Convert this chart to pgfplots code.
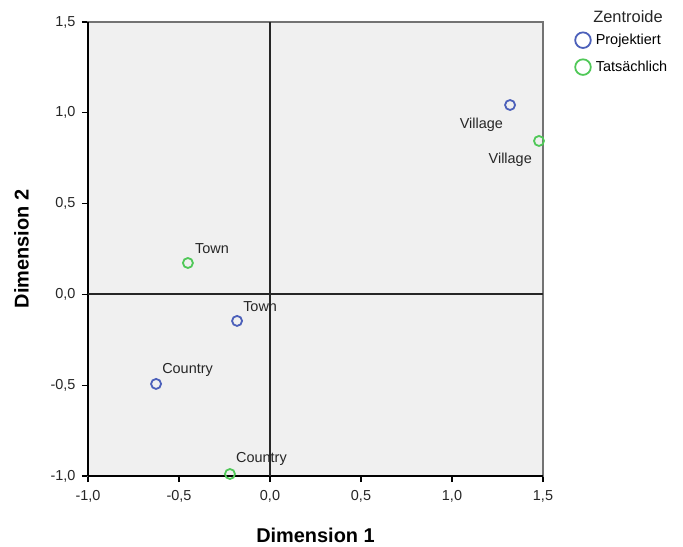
\documentclass[border=0pt]{standalone}
\usepackage{fontspec}
\setmainfont{Liberation Sans}
\usepackage{pgfplots}
\pgfplotsset{compat=1.18}
\definecolor{bgc}{RGB}{240,240,240}
\definecolor{cblue}{RGB}{76,96,186}
\definecolor{cgreen}{RGB}{80,200,88}
\begin{document}
\begin{tikzpicture}
\begin{axis}[name=ax, scale only axis, width=455bp, height=454bp,
  xmin=-1, xmax=1.5, ymin=-1, ymax=1.5,
  xtick={-1,-0.5,0,0.5,1,1.5}, ytick={-1,-0.5,0,0.5,1,1.5},
  axis background/.style={fill=bgc},
  axis line style={draw=black!55, line width=1.2bp},
  tick style={black, line width=1.1bp},
  major tick length=6bp, tick align=outside, tick pos=left,
  ticklabel style={font=\fontsize{14.5}{16}\selectfont, text=black!85},
  xticklabel style={yshift=-5bp}, yticklabel style={xshift=-3bp},
  /pgf/number format/.cd, use comma, fixed, fixed zerofill, precision=1, assume math mode=true,
  /pgfplots/.cd,
  xlabel={Dimension 1}, ylabel={Dimension 2},
  label style={font=\bfseries\fontsize{20}{23}\selectfont},
  xlabel style={yshift=-19bp}, ylabel style={yshift=15bp},
  clip=false,
  legend style={at={(1,1)}, anchor=north west, xshift=32bp, yshift=-10bp, draw=none, fill=none,
    font=\fontsize{14.5}{16}\selectfont, row sep=11bp, inner sep=0pt,
    cells={anchor=west}},
  legend image code/.code={\draw[#1, mark size=7.8bp, mark options={line width=1.8bp}] plot coordinates {(0bp,0bp)};},
]
\draw[black, line width=1.2bp] (rel axis cs:0,0) -- (rel axis cs:0,1);
\draw[black, line width=1.2bp] (rel axis cs:0,0) -- (rel axis cs:1,0);
\draw[black!85, line width=2bp] (axis cs:0,-1) -- (axis cs:0,1.5);
\draw[black!85, line width=2bp] (axis cs:-1,0) -- (axis cs:1.5,0);
\addplot[only marks, mark=o, mark size=5bp, draw=cblue, mark options={line width=1.8bp}] coordinates {
 (1.319,1.043) (-0.181,-0.146) (-0.626,-0.493)};
\addlegendentry{\hspace{3bp}Projektiert}
\addplot[only marks, mark=o, mark size=5bp, draw=cgreen, mark options={line width=1.8bp}] coordinates {
 (1.478,0.845) (-0.451,0.173) (-0.220,-0.989)};
\addlegendentry{\hspace{3bp}Tats\"achlich}
\begin{scope}[every node/.style={font=\fontsize{14.5}{16}\selectfont, text=black!85, inner sep=0pt}]
\node[anchor=north east] at ([xshift=-7bp,yshift=-13bp]axis cs:1.319,1.043) {Village};
\node[anchor=north east] at ([xshift=-7bp,yshift=-12bp]axis cs:1.478,0.845) {Village};
\node[anchor=south west] at ([xshift=7bp,yshift=9bp]axis cs:-0.451,0.173) {Town};
\node[anchor=south west] at ([xshift=6bp,yshift=9bp]axis cs:-0.181,-0.146) {Town};
\node[anchor=south west] at ([xshift=6bp,yshift=7bp]axis cs:-0.626,-0.493) {Country};
\node[anchor=south west] at ([xshift=6bp,yshift=8bp]axis cs:-0.220,-0.989) {Country};
\end{scope}
\end{axis}
\node[font=\fontsize{16.5}{18}\selectfont, text=black!85] at ([xshift=85bp,yshift=5bp]ax.north east) {Zentroide};
\useasboundingbox ([shift={(-88bp,-70bp)}]ax.south west) rectangle ([shift={(140bp,22bp)}]ax.north east);
\end{tikzpicture}
\end{document}
